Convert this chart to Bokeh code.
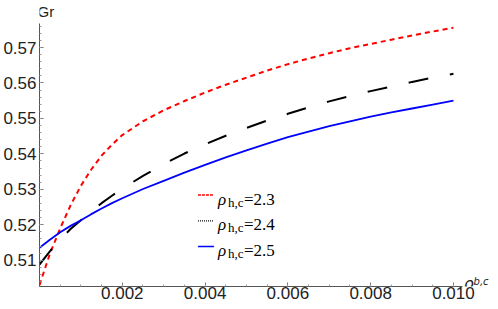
from bokeh.plotting import figure
from bokeh.models import Range1d, FixedTicker, PrintfTickFormatter, Label
from bokeh.embed import file_html
from bokeh.resources import INLINE

# ---- data ----
rho_b = [0, 0.00025, 0.0005, 0.00075, 0.001, 0.00125, 0.0015, 0.00175, 0.002,
         0.0025, 0.003, 0.0035, 0.004, 0.0045, 0.005, 0.0055, 0.006, 0.0065,
         0.007, 0.0075, 0.008, 0.0085, 0.009, 0.0095, 0.010]
gr_23 = [0.5030, 0.5118, 0.5190, 0.5255, 0.5310, 0.5356, 0.5395, 0.5426, 0.5453,
         0.5492, 0.5523, 0.5549, 0.5573, 0.5595, 0.5615, 0.5635, 0.5653, 0.5669,
         0.5684, 0.5698, 0.5710, 0.5722, 0.5734, 0.5745, 0.5756]
gr_24 = [0.5088, 0.5125, 0.5159, 0.5188, 0.5213, 0.5238, 0.5261, 0.5282, 0.5302,
         0.5338, 0.5371, 0.5401, 0.5427, 0.5451, 0.5473, 0.5494, 0.5513, 0.5531,
         0.5548, 0.5563, 0.5577, 0.5590, 0.5603, 0.5615, 0.5626]
gr_25 = [0.5135, 0.5158, 0.5179, 0.5197, 0.5213, 0.5230, 0.5246, 0.5261, 0.5275,
         0.5301, 0.5324, 0.5347, 0.5369, 0.5390, 0.5410, 0.5429, 0.5447, 0.5463,
         0.5478, 0.5492, 0.5505, 0.5517, 0.5528, 0.5539, 0.5550]
rho_hc = ["2.3", "2.4", "2.5"]
x_ticks = [0.002, 0.004, 0.006, 0.008, 0.010]
y_ticks = [0.51, 0.52, 0.53, 0.54, 0.55, 0.56, 0.57]

# ---- styles ----
colors = ["#ff0000", "#000000", "#0000ff"]
dashes = ["5 4", "20 22", "solid"]
widths = [2, 2, 1.8]
leg_dashes = ["3 1", "1 1", "solid"]
leg_widths = [1.6, 1.3, 1.6]

# axis extents and frame (extra room at top/right for the axis titles)
AX0, AX1 = 0.0, 0.01022
AY0, AY1 = 0.5026, 0.5767
px_x = 424.0 / (AX1 - AX0)     # approx pixels per x unit
px_y = 260.0 / (AY1 - AY0)     # approx pixels per y unit
X1e = AX1 + 28 / px_x
Y1e = AY1 + 23 / px_y

p = figure(width=490, height=301, output_backend="svg", toolbar_location=None,
           x_range=Range1d(AX0, X1e), y_range=Range1d(AY0, Y1e),
           min_border_left=0, min_border_right=0, min_border_top=0,
           min_border_bottom=0)
p.outline_line_color = None
p.grid.visible = False
p.background_fill_color = "white"

for ys, c, d, w in zip([gr_23, gr_24, gr_25], colors, dashes, widths):
    p.line(rho_b, ys, line_color=c, line_dash=d, line_width=w)

x_minor = [i * 0.0005 for i in range(0, 21)]
y_minor = [0.504 + i * 0.002 for i in range(37)]
p.xaxis.ticker = FixedTicker(ticks=x_ticks, minor_ticks=x_minor)
p.yaxis.ticker = FixedTicker(ticks=y_ticks, minor_ticks=y_minor)
p.xaxis.formatter = PrintfTickFormatter(format="%.3f")
p.yaxis.formatter = PrintfTickFormatter(format="%.2f")
p.xaxis.bounds = (AX0, AX1)
p.yaxis.bounds = (AY0, AY1)

for ax in (p.xaxis, p.yaxis):
    ax.axis_line_color = "#555555"
    ax.axis_line_width = 1
    ax.major_tick_line_color = "#777777"
    ax.minor_tick_line_color = "#999999"
    ax.major_tick_in = 4
    ax.major_tick_out = 0
    ax.minor_tick_in = 2
    ax.minor_tick_out = 0
    ax.major_label_text_font = "Liberation Sans"
    ax.major_label_text_font_size = "17px"
    ax.major_label_text_color = "#222222"
p.xaxis.major_label_standoff = 0
p.yaxis.major_label_standoff = 3

# axis titles (inside the frame, beyond the axis ends)
p.add_layout(Label(x=AX0, y=Y1e, x_offset=-2, y_offset=-2, text="Gr",
                   text_font="Liberation Sans", text_font_size="15px",
                   text_color="#222222", text_baseline="top"))
p.add_layout(Label(x=AX1, y=AY0, x_offset=1, y_offset=3, text="ρ",
                   text_font="DejaVu Sans", text_font_style="italic",
                   text_font_size="16px", text_color="#222222",
                   text_baseline="alphabetic"))
p.add_layout(Label(x=AX1, y=AY0, x_offset=11, y_offset=5, text="b,c",
                   text_font="DejaVu Sans", text_font_style="italic",
                   text_font_size="10px", text_color="#222222",
                   text_baseline="alphabetic"))

# legend (manual, for the subscript)
lx, ly = 0.00431, 0.5284
row = 25.5
for i, (lab, c, d, w) in enumerate(zip(rho_hc, colors, leg_dashes, leg_widths)):
    yc = ly - i * row / px_y
    p.line([lx - 20 / px_x, lx - 4 / px_x], [yc, yc], line_color=c,
           line_dash=d, line_width=w)
    base = -4 - i * row
    p.add_layout(Label(x=lx, y=ly, x_offset=0, y_offset=base, text="ρ",
                       text_font="Liberation Serif", text_font_style="italic",
                       text_font_size="17px", text_color="black",
                       text_baseline="alphabetic"))
    p.add_layout(Label(x=lx, y=ly, x_offset=10, y_offset=base - 3, text="h,c",
                       text_font="Liberation Serif", text_font_size="13px",
                       text_color="black", text_baseline="alphabetic"))
    p.add_layout(Label(x=lx, y=ly, x_offset=26, y_offset=base, text="=" + lab,
                       text_font="Liberation Serif", text_font_size="17px",
                       text_color="black", text_baseline="alphabetic"))

open("out.html", "w").write(file_html(p, INLINE))
